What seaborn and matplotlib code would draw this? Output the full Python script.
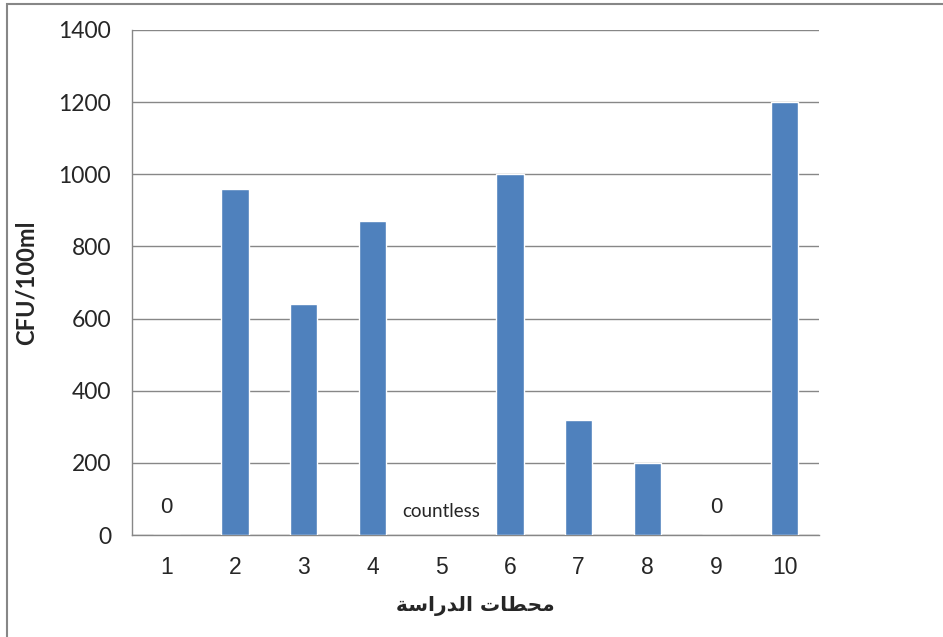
import numpy as np
import pandas as pd
import seaborn as sns
import matplotlib.pyplot as plt
from matplotlib.patches import Rectangle

# data
stations = ["1", "2", "3", "4", "5", "6", "7", "8", "9", "10"]
cfu = [0, 960, 640, 870, np.nan, 1000, 320, 200, 0, 1200]
notes = ["0", "", "", "", "countless", "", "", "", "0", ""]
y_ticks = [0, 200, 400, 600, 800, 1000, 1200, 1400]

# arabic axis title in presentation forms, visual order (no shaping engine in mpl)
xlabel_ar = "\uFE94\uFEB3\uFE8D\uFEAD\uFEAA\uFEDF\uFE8D \uFE95\uFE8E\uFEC4\uFEA4\uFEE3"

sns.set_style("white")
plt.rcParams['font.family'] = ['Liberation Sans', 'DejaVu Sans']

df = pd.DataFrame({'station': stations, 'cfu': cfu})

fig = plt.figure(figsize=(9.43, 6.37), dpi=100)
ax = fig.add_axes([132 / 943, 1 - 535 / 637, (819 - 132) / 943, (535 - 30) / 637])

sns.barplot(data=df, x='station', y='cfu', order=stations, color='#4F81BD',
            saturation=1, width=0.4, ax=ax, zorder=3)

# gridlines and axes
ax.set_ylim(0, 1400)
ax.set_xlim(-0.5, len(stations) - 0.5)
ax.set_yticks(y_ticks)
ax.set_yticklabels([str(t) for t in y_ticks], fontfamily='Lato', fontsize=16.5)
ax.yaxis.grid(True, color='#878787', linewidth=1.0, zorder=0)
ax.xaxis.grid(False)
for s in ['top', 'right']:
    ax.spines[s].set_visible(False)
for s in ['left', 'bottom']:
    ax.spines[s].set_color('#878787')
    ax.spines[s].set_linewidth(1.0)

ax.set_xticks(range(len(stations)))
ax.set_xticklabels(stations, fontsize=16.5)
ax.set_xticks(np.arange(-0.5, len(stations), 1.0), minor=True)
ax.tick_params(axis='x', which='major', length=0, pad=15)
ax.tick_params(axis='x', which='minor', length=8, color='#878787', width=1.0, direction='out')
ax.tick_params(axis='y', length=9, color='#878787', width=1.0, direction='out', pad=6)

# text notes for stations without a bar
for i, txt in enumerate(notes):
    if txt == "":
        continue
    if txt == "countless":
        ax.text(i, 65, txt, ha='center', va='center', fontsize=13.5, fontfamily='Lato')
    else:
        ax.text(i, 75, txt, ha='center', va='center', fontsize=16)

ax.set_xlabel(xlabel_ar, fontsize=14.5, fontweight='bold', fontfamily='DejaVu Sans', labelpad=12)
ax.set_ylabel("CFU/100ml", fontsize=17, fontweight='bold', fontfamily='Lato', labelpad=15)

# outer chart frame
fig.patches.append(Rectangle((7 / 943, -0.1), 1.2, (1 - 4 / 637) + 0.1, transform=fig.transFigure,
                             fill=False, edgecolor='#878787', linewidth=1.5))

plt.savefig('out.png', dpi=100)
